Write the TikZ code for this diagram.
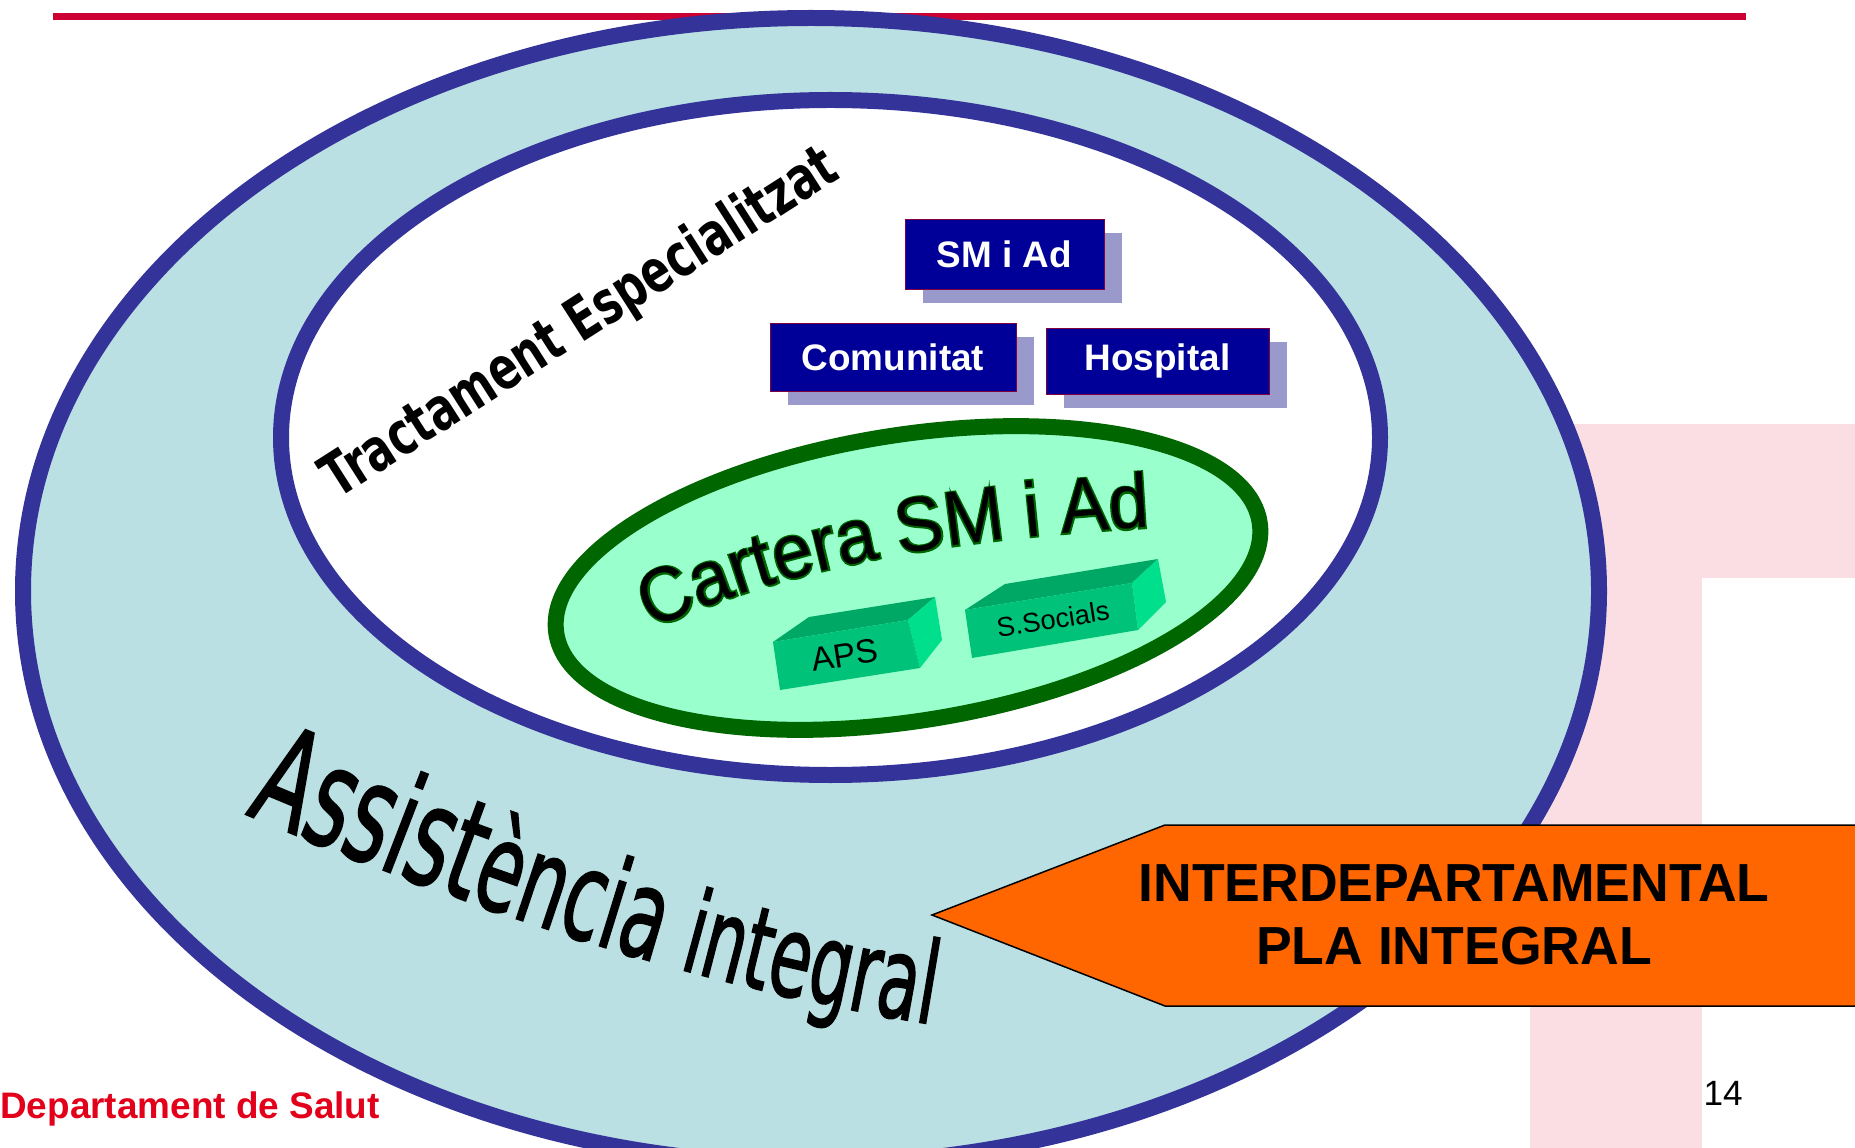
\documentclass[tikz,border=0pt]{standalone}
\usepackage{fontspec}
\setmainfont{Liberation Sans}
\newfontfamily\tractfont[FakeStretch=0.72]{DejaVu Sans}
\newfontfamily\wordfont[FakeStretch=0.59,FakeBold=1.2]{DejaVu Sans}
\newfontfamily\cartfont[FakeStretch=0.93]{Liberation Sans}
\newfontfamily\cartedgefont[FakeStretch=0.93,FakeBold=4]{Liberation Sans}
\usepackage{tikz}
\usetikzlibrary{decorations.text, shadows}
\definecolor{rulered}{RGB}{204,0,51}
\definecolor{deptred}{RGB}{226,0,26}
\definecolor{bgpink}{RGB}{250,222,227}
\definecolor{ringblue}{RGB}{51,51,153}
\definecolor{ringfill}{RGB}{186,224,227}
\definecolor{cartfill}{RGB}{153,255,204}
\definecolor{cartline}{RGB}{0,102,0}
\definecolor{boxblue}{RGB}{0,0,153}
\definecolor{boxedge}{RGB}{128,0,64}
\definecolor{boxshadow}{RGB}{153,153,204}
\definecolor{slabfront}{RGB}{0,194,120}
\definecolor{slabtop}{RGB}{0,168,102}
\definecolor{slabside}{RGB}{0,224,140}
\definecolor{arroworange}{RGB}{255,102,0}

\begin{document}
\begin{tikzpicture}[x=0.02cm, y=-0.02cm,
	ring/.style={draw=ringblue, line width=0.32cm},
	bluebox/.style={draw=boxedge, thin, fill=boxblue, text=white, inner sep=0pt,
		font=\bfseries\fontsize{21}{25}\selectfont,
		drop shadow={shadow xshift=0.35cm, shadow yshift=-0.29cm, fill=boxshadow, opacity=1}},
	slablabel/.style={inner sep=0pt, text=black},
	arrowbox/.style={draw=black, line width=0.03cm, fill=arroworange, line join=miter}]

\def \xu{0.02cm}

\clip (0,0) rectangle (1855,1148);
\fill[white] (0,0) rectangle (1855,1148);

% faded slide background
\fill[bgpink] (1530,424) rectangle (1855,578);
\fill[bgpink] (1530,424) rectangle (1702,1148);

\draw[rulered, line width=0.14cm] (53,17) -- (1746,17); % top rule

\draw[ring, fill=ringfill] (811,591) ellipse [x radius=788, y radius=573]; % outer ring
\draw[ring, fill=white] (830.5,437.5) ellipse [x radius=549.5, y radius=337.5]; % inner ring
\draw[cartline, line width=0.32cm, fill=cartfill, rotate around={9:(908,578)}]
	(908,578) ellipse [x radius=356, y radius=143]; % cartera

\foreach \name/\cx/\cy/\w/\h/\txt in {smad/1004.5/254/199/70/{SM i Ad},
		comunitat/893/357/246/68/Comunitat, hospital/1157.5/361/223/66/Hospital} {
	\node (\name) [bluebox, minimum width=\w*\xu, minimum height=\h*\xu] at (\cx,\cy) {\txt};
}

% APS slab
\fill[slabtop] (773,642) -- (809,617) -- (935,597) -- (908,620) -- cycle;
\fill[slabside] (908,620) -- (935,597) -- (942,640) -- (920,668) -- cycle;
\fill[slabfront] (773,642) -- (908,620) -- (920,668) -- (780,690) -- cycle;
\node (aps) [slablabel, rotate=9, font=\fontsize{19}{22}\selectfont] at (845,655) {APS};

% S.Socials slab
\fill[slabtop] (965,610) -- (1005,584) -- (1158,559) -- (1132,583) -- cycle;
\fill[slabside] (1132,583) -- (1158,559) -- (1166,602) -- (1138,630) -- cycle;
\fill[slabfront] (965,610) -- (1132,583) -- (1138,630) -- (972,658) -- cycle;
\node (socials) [slablabel, rotate=9, font=\fontsize{15.5}{18}\selectfont] at (1053,619) {S.Socials};

% arched titles
\path[decorate, decoration={text along path, text color=cartline,
	text={|\cartedgefont\fontsize{44}{50}\selectfont|Cartera SM i Ad}}]
	(652,630) .. controls (790,565) and (960,535) .. (1200,525);
\path[decorate, decoration={text along path,
	text={|\cartfont\fontsize{44}{50}\selectfont|Cartera SM i Ad}}]
	(652,630) .. controls (790,565) and (960,535) .. (1200,525);

\node (tract) [anchor=base west, rotate=32.6, inner sep=0pt,
	font=\tractfont\bfseries\fontsize{34}{40}\selectfont] at (337,500) {Tractament Especialitzat};

\path[decorate, decoration={text along path,
	text={|\wordfont\fontsize{79}{86}\selectfont|Assist|\wordfont\fontsize{71}{78}\selectfont|ència |\wordfont\fontsize{65}{72}\selectfont|integral}}]
	(245,814) .. controls (520,930) and (720,990) .. (935,1025) -- (1060,1042);

% interdepartmental arrow
\draw[arrowbox] (932,915) -- (1165,825) -- (1875,825) -- (1875,1006) -- (1165,1006) -- cycle;
\node (inter) [anchor=base, inner sep=0pt, font=\bfseries\fontsize{30.5}{36}\selectfont] at (1454,901) {INTERDEPARTAMENTAL};
\node (pla) [anchor=base, inner sep=0pt, font=\bfseries\fontsize{30.5}{36}\selectfont] at (1454,964) {PLA INTEGRAL};

\node (dept) [anchor=base west, inner sep=0pt, text=deptred, font=\bfseries\fontsize{21}{25}\selectfont] at (0,1118) {Departament de Salut};
\node (page) [anchor=base east, inner sep=0pt, font=\fontsize{20}{24}\selectfont] at (1743,1105) {14};

\end{tikzpicture}
\end{document}
